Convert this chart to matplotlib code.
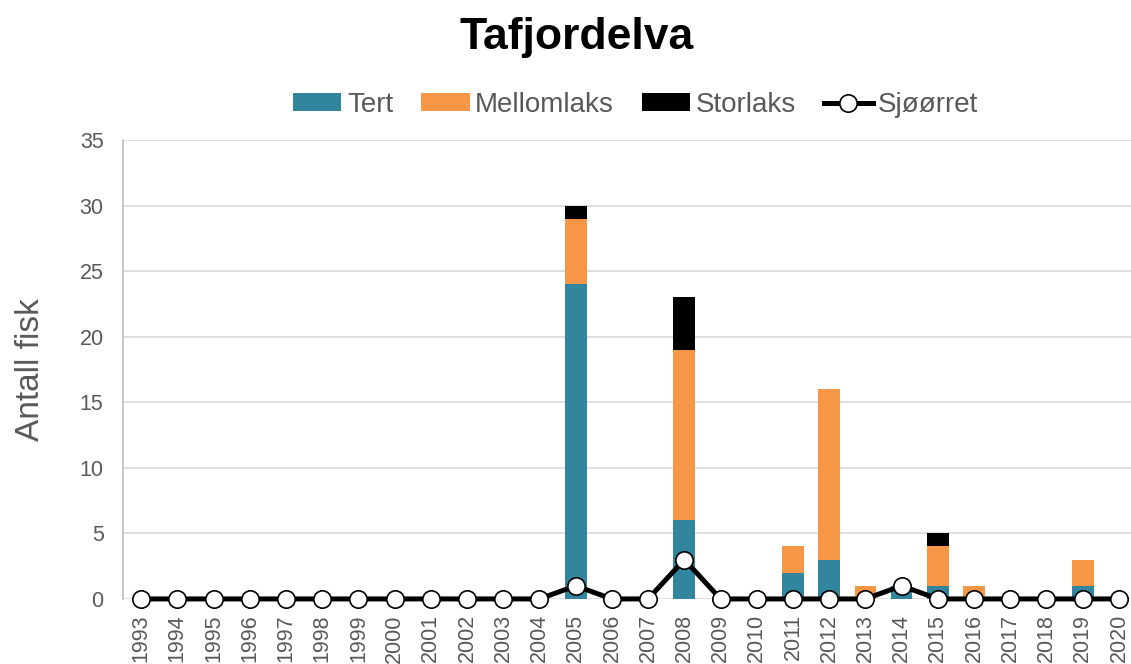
import matplotlib.pyplot as plt
import numpy as np

plt.rcParams['font.family'] = ['Liberation Sans', 'DejaVu Sans']

years = [str(y) for y in range(1993, 2021)]
tert = [0]*12 + [24, 0, 0, 6, 0, 0, 2, 3, 0, 1, 1, 0, 0, 0, 1, 0]
mellomlaks = [0]*12 + [5, 0, 0, 13, 0, 0, 2, 13, 1, 0, 3, 1, 0, 0, 2, 0]
storlaks = [0]*12 + [1, 0, 0, 4, 0, 0, 0, 0, 0, 0, 1, 0, 0, 0, 0, 0]
sjoorret = [0]*12 + [1, 0, 0, 3, 0, 0, 0, 0, 0, 1, 0, 0, 0, 0, 0, 0]

tert = np.array(tert)
mellomlaks = np.array(mellomlaks)
storlaks = np.array(storlaks)
x = np.arange(len(years))

fig = plt.figure(figsize=(11.31, 6.64), dpi=100)
ax = fig.add_axes([0.1088, 0.098, 0.8965, 0.691])

w = 0.6
ax.bar(x, tert, w, color='#31859C', label='Tert', zorder=2)
ax.bar(x, mellomlaks, w, bottom=tert, color='#F79646', label='Mellomlaks', zorder=2)
ax.bar(x, storlaks, w, bottom=tert + mellomlaks, color='black', label='Storlaks', zorder=2)
ax.plot(x, sjoorret, color='black', lw=3.6, marker='o', ms=12.5,
        mfc='white', mec='black', mew=1.2, label='Sjøørret', zorder=3, clip_on=False)

ax.set_xlim(-0.5, len(years) - 0.5)
ax.set_ylim(0, 35)
ax.set_yticks(range(0, 36, 5))
ax.set_xticks(x)
ax.set_xticklabels(years, rotation=90)
ax.tick_params(length=0, colors='#595959', labelsize=15.5)
ax.tick_params(axis='x', pad=11)
ax.tick_params(axis='y', pad=14)
ax.grid(axis='y', color='#D9D9D9', lw=1.2, zorder=0)
for s in ['top', 'right', 'bottom']:
    ax.spines[s].set_visible(False)
ax.spines['left'].set_color('#BFBFBF')
ax.spines['left'].set_linewidth(1.2)

ax.set_ylabel('Antall fisk', fontsize=24, color='#595959')
ax.yaxis.set_label_coords(-0.076, 0.5)
fig.text(0.51, 0.943, 'Tafjordelva', fontsize=32, fontweight='bold', ha='center', va='center')

handles, labels = ax.get_legend_handles_labels()
order = [1, 2, 3, 0]
fig.legend([handles[i] for i in order], [labels[i] for i in order],
           loc='center', bbox_to_anchor=(0.562, 0.842), ncol=4, frameon=False,
           fontsize=20, labelcolor='#595959', handlelength=1.75, handleheight=0.6,
           handletextpad=0.2, columnspacing=1.0)

fig.savefig('out.png', dpi=100)
